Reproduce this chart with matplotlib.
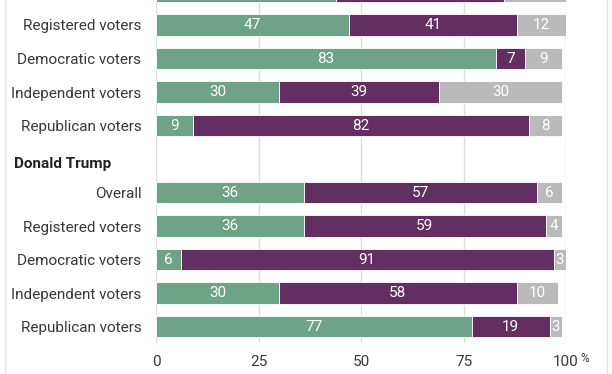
import matplotlib.pyplot as plt
from matplotlib.lines import Line2D

plt.rcParams['font.family'] = ['Roboto', 'DejaVu Sans']

# rows top to bottom; the first group's header and "Overall" row are cut off at the top
rows = ['Overall', 'Registered voters', 'Democratic voters', 'Independent voters', 'Republican voters',
        '',
        'Overall', 'Registered voters', 'Democratic voters', 'Independent voters', 'Republican voters']
favorable = [44, 47, 83, 30, 9, None, 36, 36, 6, 30, 77]
unfavorable = [41, 41, 7, 39, 82, None, 57, 59, 91, 58, 19]
no_opinion = [15, 12, 9, 30, 8, None, 6, 4, 3, 10, 3]
header = 'Donald Trump'
header_row = 5

ticks = [0, 25, 50, 75, 100]
tick_labels = ['0', '25', '50', '75', '100']

c_fav = '#6ea387'
c_unf = '#632f62'
c_no = '#bababa'

W, H = 612, 374
fig = plt.figure(figsize=(W / 100, H / 100), dpi=100)
ax = fig.add_axes([156 / W, 1 - 343 / H, 410 / W, 343 / H])

idx = [i for i in range(len(rows)) if favorable[i] is not None]
f = [favorable[i] for i in idx]
u = [unfavorable[i] for i in idx]
n = [no_opinion[i] for i in idx]
left2 = [a + b for a, b in zip(f, u)]

h = 0.64
b1 = ax.barh(idx, f, height=h, color=c_fav, edgecolor='white', linewidth=0.6, zorder=2)
b2 = ax.barh(idx, u, left=f, height=h, color=c_unf, edgecolor='white', linewidth=0.6, zorder=2)
b3 = ax.barh(idx, n, left=left2, height=h, color=c_no, edgecolor='white', linewidth=0.6, zorder=2)
# top row sits mostly above the frame, so its numbers are not shown
for bars, vals in ((b1, f), (b2, u), (b3, n)):
    labs = ['' if i == 0 else str(v) for i, v in zip(idx, vals)]
    ax.bar_label(bars, labels=labs, label_type='center', color='white', fontsize=11)

ax.set_yticks(idx)
ax.set_yticklabels([rows[i] for i in idx], fontsize=11, color='#383838')
ax.set_xticks(ticks)
ax.set_xticklabels(tick_labels, fontsize=11, color='#383838')
ax.set_xlim(0, 100)
ax.set_ylim(10.49, 0.254)
ax.tick_params(length=0)
ax.tick_params(axis='y', pad=10.5)
ax.tick_params(axis='x', pad=9)
for s in ax.spines.values():
    s.set_visible(False)
ax.grid(axis='x', color='#dddddd', linewidth=1, zorder=0)
ax.set_axisbelow(True)

ax.text(-142 / 4.1, header_row + 0.15, header, fontsize=11, fontweight='bold',
        color='#222222', ha='left', va='center')
fig.text(580 / W, 1 - 352 / H, '%', fontsize=8.5, color='#383838', ha='left', va='top')

# light panel border
for x in (5, 607):
    fig.add_artist(Line2D([x / W, x / W], [0, 1], color='#e2e2e2', linewidth=1))

fig.savefig('out.png', dpi=100)
